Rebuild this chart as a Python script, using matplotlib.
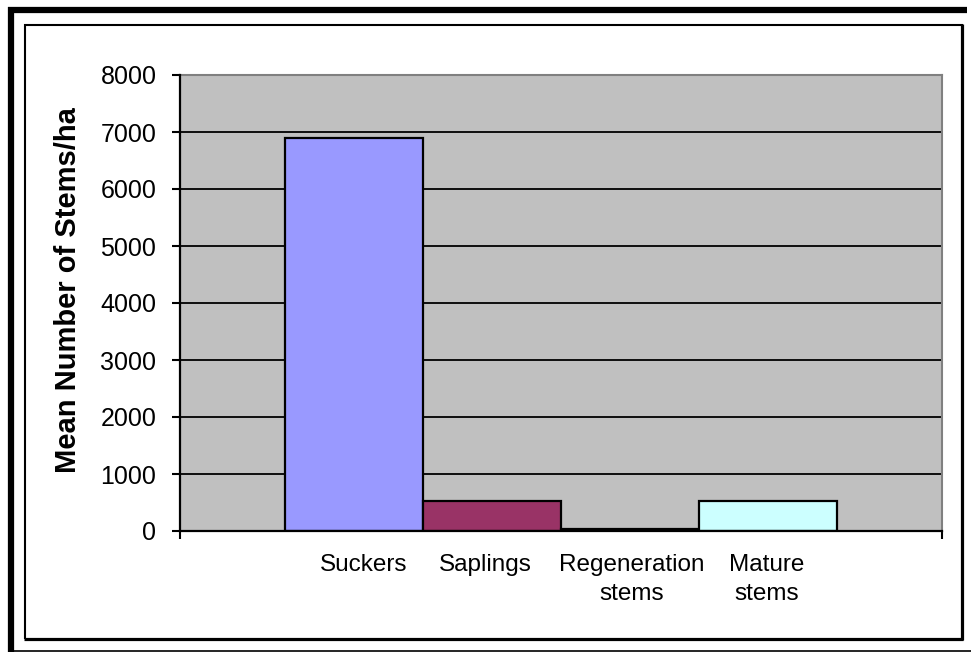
import matplotlib
matplotlib.use("Agg")
import matplotlib.pyplot as plt
from matplotlib.lines import Line2D
import numpy as np

categories = ["Suckers", "Saplings", "Regeneration\nstems", "Mature\nstems"]
values = [6900, 525, 40, 525]
colors = ["#9999FF", "#993366", "#FFFFCC", "#CCFFFF"]
yticks = [0, 1000, 2000, 3000, 4000, 5000, 6000, 7000, 8000]

# small horizontal nudges of the category text boxes (layout only)
label_nudge = [0.07, -0.05, 0.01, -0.01]

plt.rcParams['font.family'] = ['Liberation Sans', 'DejaVu Sans']

W, H = 971, 652
fig = plt.figure(figsize=(W / 100, H / 100), dpi=100)
fig.patch.set_facecolor("white")

def fx(px):
    return px / W

def fy(py):
    return 1 - py / H

ax = fig.add_axes([fx(180), fy(531), (942 - 180) / W, (531 - 75) / H])
ax.set_facecolor("#C0C0C0")
ax.set_axisbelow(True)

x = np.arange(len(categories)) + 0.5
ax.bar(x, values, width=1.0, color=colors, edgecolor="black", linewidth=1.6, zorder=3)

ax.set_xlim(-0.76, 4.76)
ax.set_ylim(0, 8000)
ax.set_yticks(yticks)
ax.set_yticklabels([str(t) for t in yticks], fontsize=18)
ax.set_xticks([-0.76, 4.76])
ax.set_xticklabels(["", ""])
ax.tick_params(axis="y", length=6, width=1.5, pad=11, direction="out")
ax.tick_params(axis="x", length=6, width=1.5, direction="out")
ax.yaxis.grid(True, color="black", linewidth=1.3, zorder=1)

for s in ["left", "bottom"]:
    ax.spines[s].set_color("black")
    ax.spines[s].set_linewidth(1.6)
    ax.spines[s].set_zorder(4)
for s in ["top", "right"]:
    ax.spines[s].set_color("#808080")
    ax.spines[s].set_linewidth(1.5)

trans = ax.get_xaxis_transform()
for xi, lab, dn in zip(x, categories, label_nudge):
    ax.text(xi + dn, -0.051, lab, transform=trans, ha="center", va="top",
            fontsize=17.5, linespacing=1.4)

ax.set_ylabel("Mean Number of Stems/ha", fontsize=21, fontweight="bold")
ax.yaxis.set_label_coords(-(180 - 82) / 762, 0.528)

# Frames
def line(x0, y0, x1, y1, lw, color="black"):
    fig.add_artist(Line2D([fx(x0), fx(x1)], [fy(y0), fy(y1)], transform=fig.transFigure,
                          color=color, linewidth=lw, solid_capstyle="butt"))

# outer thick frame (top & left), thin bottom
line(8, 10, 967, 10, 4.5)
line(11, 7, 11, 652, 4.5)
line(8, 650.5, 971, 650.5, 1.2)
# inner box
line(24, 25, 963, 25, 1.5)
line(25, 24, 25, 639, 1.5)
line(961.5, 24, 961.5, 640, 2.3)
line(24, 638.5, 963, 638.5, 2.3)

fig.savefig("out.png", dpi=100)
